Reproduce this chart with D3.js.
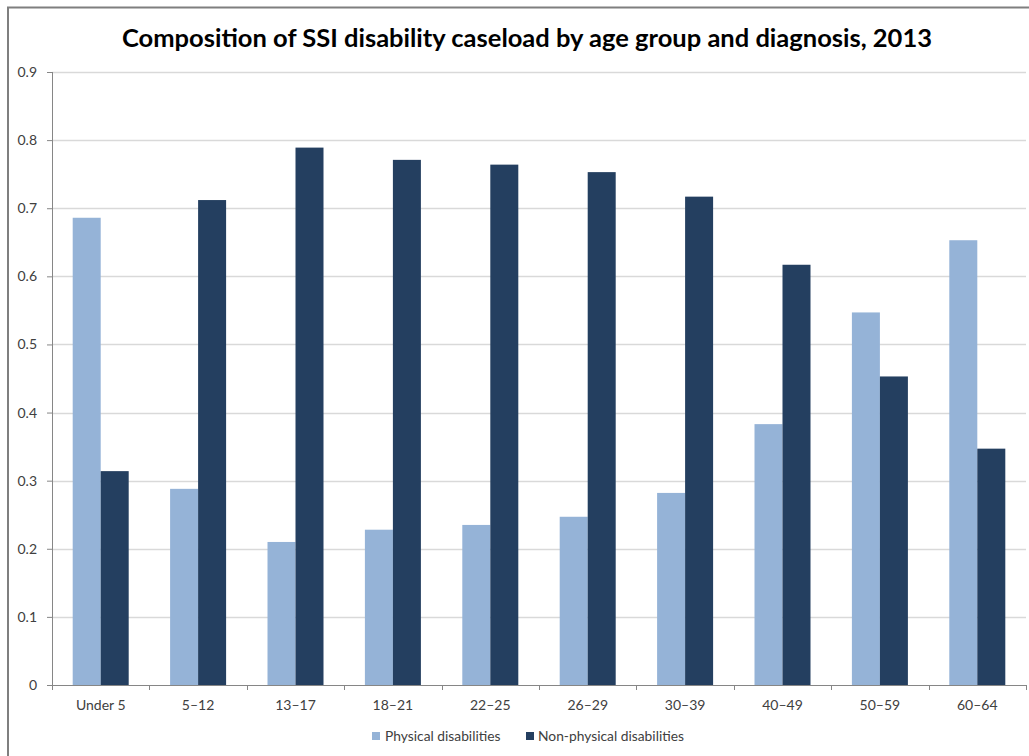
<!DOCTYPE html>
<html><head><meta charset="utf-8">
<script src="https://cdn.jsdelivr.net/npm/d3@7"></script>
<style>body{margin:0;background:#fff;} svg{display:block;}</style>
</head><body>
<script>
const categories = ["Under 5","5–12","13–17","18–21","22–25","26–29","30–39","40–49","50–59","60–64"];
const physical =    [0.686,0.288,0.210,0.228,0.235,0.247,0.282,0.383,0.547,0.653];
const nonPhysical = [0.314,0.712,0.789,0.771,0.764,0.753,0.717,0.617,0.453,0.347];
const seriesNames = ["Physical disabilities","Non-physical disabilities"];
const yTicks = [0,0.1,0.2,0.3,0.4,0.5,0.6,0.7,0.8,0.9];
const title = "Composition of SSI disability caseload by age group and diagnosis, 2013";

const W=1029,H=756;
const colors=["#95b3d7","#243f60"];
const font="Lato, 'Open Sans', sans-serif";
const svg=d3.select("body").append("svg").attr("width",W).attr("height",H);
svg.append("rect").attr("width",W).attr("height",H).attr("fill","#fff");
// frame
svg.append("path").attr("d",`M8,${H} V7.5 H${W}`).attr("fill","none").attr("stroke","#7f7f7f").attr("stroke-width",2);

const x0=52,x1=1026,yTop=72,yBot=685;
const x=d3.scaleBand().domain(categories).range([x0,x1]).paddingInner(0).paddingOuter(0);
const y=d3.scaleLinear().domain([0,0.9]).range([yBot,yTop]);
const inner=d3.scaleBand().domain([0,1]).range([0,56]);
const off=(x.bandwidth()-56)/2;

// gridlines
svg.append("g").selectAll("line").data(yTicks.filter(d=>d>0)).join("line")
 .attr("x1",x0).attr("x2",x1).attr("y1",d=>Math.round(y(d))+0.5).attr("y2",d=>Math.round(y(d))+0.5)
 .attr("stroke","#d9d9d9").attr("stroke-width",1.5);

// y axis
const ya=svg.append("g").attr("transform",`translate(${x0},0)`)
 .call(d3.axisLeft(y).tickValues(yTicks).tickSize(5).tickPadding(10).tickFormat(d=>d===0?"0":d3.format(".1f")(d)));
ya.select(".domain").attr("stroke","#868686").attr("d",`M0.5,${yTop}V${yBot}`);
ya.selectAll(".tick line").attr("stroke","#868686");
ya.selectAll("text").attr("font-family",font).attr("font-size",14).attr("fill","#404040");

// bars
const series=[physical,nonPhysical];
series.forEach((vals,si)=>{
 svg.append("g").selectAll("rect").data(vals).join("rect")
  .attr("x",(d,i)=>x(categories[i])+off+inner(si))
  .attr("width",inner.bandwidth())
  .attr("y",d=>y(d)).attr("height",d=>yBot-y(d))
  .attr("fill",colors[si]);
});

// x axis
const xa=svg.append("g").attr("transform",`translate(0,${yBot})`)
 .call(d3.axisBottom(x).tickSize(0).tickPadding(15));
xa.select(".domain").attr("stroke","#868686").attr("d",`M${x0},0.5H${x1}`);
xa.selectAll("text").attr("font-family",font).attr("font-size",14).attr("fill","#404040");
// boundary ticks
const bounds=categories.map(c=>x(c)).concat([x1]);
svg.append("g").selectAll("line").data(bounds).join("line")
 .attr("x1",d=>Math.round(d)+0.5).attr("x2",d=>Math.round(d)+0.5).attr("y1",yBot).attr("y2",yBot+5)
 .attr("stroke","#868686");

// title
svg.append("text").attr("x",527).attr("y",47).attr("text-anchor","middle")
 .attr("font-family",font).attr("font-weight","bold").attr("font-size",25.5).attr("fill","#000").text(title);

// legend
const lg=[{x:372,tx:385},{x:526,tx:538}];
seriesNames.forEach((n,i)=>{
 svg.append("rect").attr("x",lg[i].x).attr("y",732).attr("width",8).attr("height",8).attr("fill",colors[i]);
 svg.append("text").attr("x",lg[i].tx).attr("y",741).attr("font-family",font).attr("font-size",13.8).attr("fill","#404040").text(n);
});
</script>
</body></html>
